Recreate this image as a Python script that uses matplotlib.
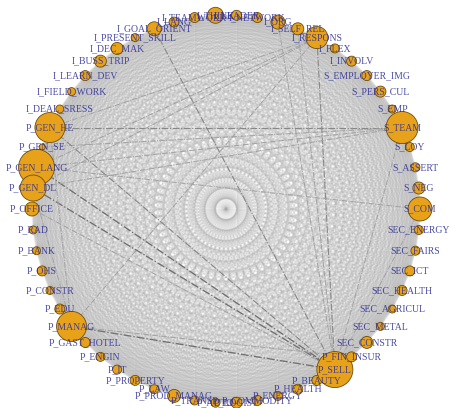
import itertools
import numpy as np
import matplotlib
matplotlib.use('Agg')
import matplotlib.pyplot as plt
from matplotlib.collections import LineCollection
from matplotlib.patches import Circle

# vertices in circle-layout order (counter-clockwise, starting at 3 o'clock)
nodes = ['S_COM', 'S_NEG', 'S_ASSERT', 'S_LOY', 'S_TEAM', 'S_EMP', 'S_PERS_CUL',
         'S_EMPLOYER_IMG', 'I_INVOLV', 'I_FLEX', 'I_RESPONS', 'I_SELF_REL', 'I_ORG',
         'I_NETWORK', 'I_LEADER', 'I_THINK', 'I_TEAMWORK', 'I_LANG', 'I_GOAL_ORIENT',
         'I_PRESENT_SKILL', 'I_DEC_MAK', 'I_BUSS_TRIP', 'I_LEARN_DEV', 'I_FIELD_WORK',
         'I_DEAL_SRESS', 'P_GEN_HE', 'P_GEN_SE', 'P_GEN_LANG', 'P_GEN_DL', 'P_OFFICE',
         'P_RAD', 'P_BANK', 'P_OHS', 'P_CONSTR', 'P_EDU', 'P_MANAG', 'P_GAST_HOTEL',
         'P_ENGIN', 'P_IT', 'P_PROPERTY', 'P_LAW', 'P_PROD_MANAG', 'P_TRANSP', 'P_AUTO',
         'P_LOGIST', 'P_COMMODITY', 'P_ENERGY', 'P_HEALTH', 'P_BEAUTY', 'P_SELL',
         'P_FIN_INSUR', 'SEC_CONSTR', 'SEC_METAL', 'SEC_AGRICUL', 'SEC_HEALTH',
         'SEC_ICT', 'SEC_FAIRS', 'SEC_ENERGY']

# vertex size (frequency of the code)
node_size = [12, 6, 4.5, 4.5, 16, 4, 5.5,
             5, 5, 4.5, 11, 6, 7,
             5, 5, 8, 5, 5, 7,
             4, 6, 6, 5, 4,
             4, 15, 3, 18, 13, 7,
             4, 4, 5, 4, 5, 15, 5,
             4.5, 4.5, 5, 4.5, 6.5, 4.5, 4.5,
             5.5, 5, 4.5, 5, 5, 18,
             5, 6, 4, 4, 5,
             5, 4.5, 4.5]

# strongest co-occurrences (source, target, weight)
strong_edges = [('P_GEN_HE', 'S_TEAM', 2), ('P_GEN_SE', 'S_TEAM', 1),
                ('P_GEN_LANG', 'S_TEAM', 1), ('P_GEN_LANG', 'P_SELL', 3),
                ('P_GEN_DL', 'P_SELL', 3), ('P_GEN_HE', 'P_SELL', 2),
                ('P_OFFICE', 'P_SELL', 1), ('P_MANAG', 'P_SELL', 3),
                ('P_MANAG', 'P_FIN_INSUR', 1), ('I_RESPONS', 'P_SELL', 2),
                ('I_SELF_REL', 'P_SELL', 1), ('I_GOAL_ORIENT', 'P_SELL', 2),
                ('S_TEAM', 'P_SELL', 1), ('S_COM', 'P_SELL', 1),
                ('I_RESPONS', 'P_GEN_LANG', 1), ('I_RESPONS', 'P_GEN_DL', 1),
                ('I_RESPONS', 'P_GEN_HE', 1), ('P_GEN_DL', 'P_MANAG', 1),
                ('P_GEN_LANG', 'S_COM', 1), ('I_RESPONS', 'P_MANAG', 1),
                ('P_GEN_DL', 'S_TEAM', 1), ('I_ORG', 'P_SELL', 1),
                ('P_GEN_HE', 'P_MANAG', 1)]

# circle layout in pixel units
W, H = 450, 408
cx, cy, R = 226, 209, 194
n = len(nodes)
ang = 2 * np.pi * np.arange(n) / n
pos = {name: (cx + R * np.cos(a), cy - R * np.sin(a)) for name, a in zip(nodes, ang)}

fig = plt.figure(figsize=(W / 100, H / 100), dpi=100)
ax = fig.add_axes([0, 0, 1, 1])
ax.set_xlim(0, W)
ax.set_ylim(H, 0)
ax.axis('off')

# weak ties: every pair co-occurs at least once
weak = [[pos[a], pos[b]] for a, b in itertools.combinations(nodes, 2)]
ax.add_collection(LineCollection(weak, colors='#a8a8a8', linewidths=1.0, alpha=0.15, zorder=1))

for a, b, w in strong_edges:
    (x0, y0), (x1, y1) = pos[a], pos[b]
    col = {1: '#a0a0a0', 2: '#888888', 3: '#707070'}[w]
    ax.plot([x0, x1], [y0, y1], color=col, lw=0.5 + 0.15 * w,
            linestyle=(0, (6, 1.5, 1, 1.5)), zorder=2)

for name, r in zip(nodes, node_size):
    x, y = pos[name]
    ax.add_patch(Circle((x, y), r, facecolor='#E8A21A', edgecolor='#6b4d10', lw=0.6, zorder=3))

for name in nodes:
    x, y = pos[name]
    ax.text(x, y, name, ha='center', va='center', fontsize=7, color='#2d2d96',
            alpha=0.85, family=['Liberation Serif', 'DejaVu Serif'], zorder=4)

plt.savefig('out.png', dpi=100)
plt.close()
